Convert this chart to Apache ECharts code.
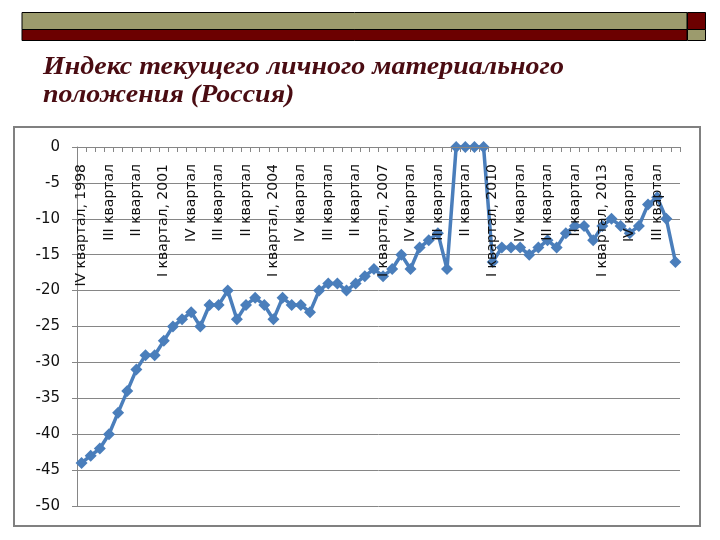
<!DOCTYPE html>
<html>
<head>
<meta charset="utf-8">
<script src="https://cdn.jsdelivr.net/npm/echarts@6/dist/echarts.min.js"></script>
<style>
html,body{margin:0;padding:0;background:#fff;}
#chart{width:720px;height:540px;}
</style>
</head>
<body>
<div id="chart"></div>
<script>
var titleLines = ['Индекс текущего личного материального', 'положения (Россия)'];

var categories = [
'IV квартал, 1998',
'I квартал, 1999','II квартал','III квартал','IV квартал',
'I квартал, 2000','II квартал','III квартал','IV квартал',
'I квартал, 2001','II квартал','III квартал','IV квартал',
'I квартал, 2002','II квартал','III квартал','IV квартал',
'I квартал, 2003','II квартал','III квартал','IV квартал',
'I квартал, 2004','II квартал','III квартал','IV квартал',
'I квартал, 2005','II квартал','III квартал','IV квартал',
'I квартал, 2006','II квартал','III квартал','IV квартал',
'I квартал, 2007','II квартал','III квартал','IV квартал',
'I квартал, 2008','II квартал','III квартал','IV квартал',
'I квартал, 2009','II квартал','III квартал','IV квартал',
'I квартал, 2010','II квартал','III квартал','IV квартал',
'I квартал, 2011','II квартал','III квартал','IV квартал',
'I квартал, 2012','II квартал','III квартал','IV квартал',
'I квартал, 2013','II квартал','III квартал','IV квартал',
'I квартал, 2014','II квартал','III квартал','IV квартал',
'I квартал, 2015'
];

var indexValues = [
-44,-43,-42,-40,-37,-34,-31,-29,-29,-27,
-25,-24,-23,-25,-22,-22,-20,-24,-22,-21,
-22,-24,-21,-22,-22,-23,-20,-19,-19,-20,
-19,-18,-17,-18,-17,-15,-17,-14,-13,-12,
-17,0,0,0,0,-16,-14,-14,-14,-15,
-14,-13,-14,-12,-11,-11,-13,-11,-10,-11,
-12,-11,-8,-7,-10,-16
];

var yMin = -50, yMax = 0, yStep = 5;

var chart = echarts.init(document.getElementById('chart'));
chart.setOption({
  animation: false,
  backgroundColor: '#ffffff',
  graphic: [
    {type:'rect', shape:{x:22,y:12.5,width:665,height:17}, style:{fill:'#9c9b6d',stroke:'#000',lineWidth:1}},
    {type:'rect', shape:{x:22,y:29.5,width:665,height:11}, style:{fill:'#6c0000',stroke:'#000',lineWidth:1}},
    {type:'rect', shape:{x:687.5,y:12.5,width:18,height:17}, style:{fill:'#6c0000',stroke:'#000',lineWidth:1}},
    {type:'rect', shape:{x:687.5,y:29.5,width:18,height:11}, style:{fill:'#9c9b6d',stroke:'#000',lineWidth:1}},
    {type:'text', x:43, y:68, scaleX:1.12, style:{text:titleLines[0], x:0, y:0, font:'italic bold 25px "Liberation Serif"', fill:'#4a0c12', verticalAlign:'middle', align:'left'}},
    {type:'text', x:43, y:96, scaleX:1.12, style:{text:titleLines[1], x:0, y:0, font:'italic bold 25px "Liberation Serif"', fill:'#4a0c12', verticalAlign:'middle', align:'left'}},
    {type:'rect', shape:{x:14,y:127,width:686,height:399}, style:{fill:'none',stroke:'#808080',lineWidth:2}}
  ],
  grid: {left:77, right:40, top:147, bottom:34},
  xAxis: {
    type:'category',
    data: categories,
    position:'top',
    boundaryGap:true,
    z: 5,
    axisLine:{show:true, lineStyle:{color:'#868686', width:1}},
    axisTick:{show:true, inside:true, interval:0, length:5, lineStyle:{color:'#868686'}},
    axisLabel:{inside:true, rotate:90, interval:2, margin:17, fontFamily:'DejaVu Sans', fontSize:14, color:'#111'},
    splitLine:{show:false}
  },
  yAxis: {
    type:'value',
    min:yMin, max:yMax, interval:yStep,
    axisLine:{show:true, lineStyle:{color:'#868686', width:1}},
    axisTick:{show:true, length:5, lineStyle:{color:'#868686'}},
    axisLabel:{margin:17, fontFamily:'DejaVu Sans', fontSize:15, color:'#111'},
    splitLine:{show:true, lineStyle:{color:'#868686', width:1}}
  },
  series: [{
    type:'line',
    data: indexValues,
    symbol:'diamond',
    symbolSize:12,
    showAllSymbol:true,
    clip:false,
    lineStyle:{color:'#4a7ebb', width:3.5},
    itemStyle:{color:'#4a7ebb'}
  }]
});
</script>
</body>
</html>
